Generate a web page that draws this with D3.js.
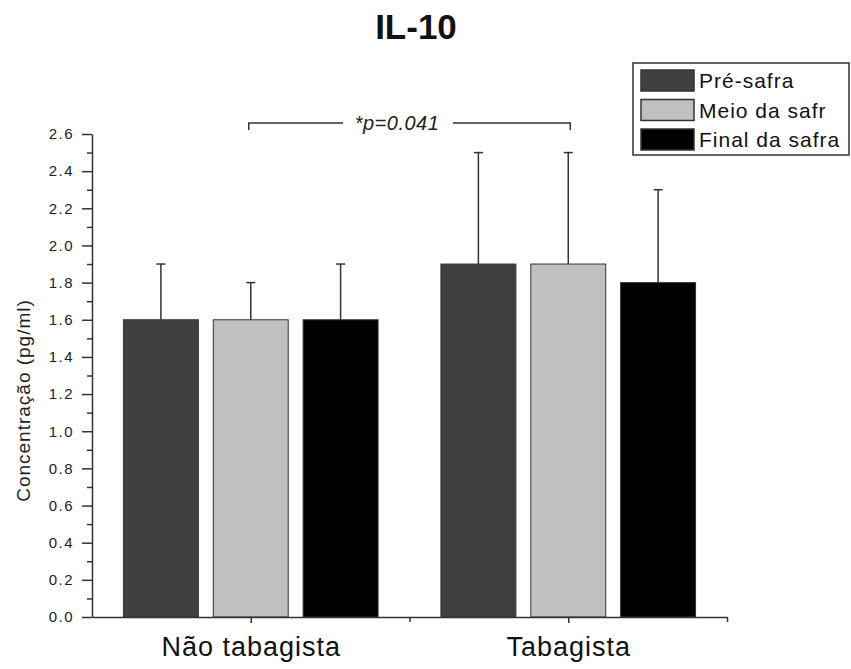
<!DOCTYPE html>
<html>
<head>
<meta charset="utf-8">
<script src="https://cdn.jsdelivr.net/npm/d3@7"></script>
<style>
	body { margin: 0; background: #fff; }
	svg { display: block; font-family: Arial, "Liberation Sans", sans-serif; }
</style>
</head>
<body>
<div id="chart"></div>
<script>
// values
const groups = ["Não tabagista", "Tabagista"];
const series = ["Pré-safra", "Meio da safr", "Final da safra"];
const seriesColors = ["#404040", "#c0c0c0", "#000000"];
const means = [
	[1.6, 1.6, 1.6],
	[1.9, 1.9, 1.8]
];
const errors = [
	[0.3, 0.2, 0.3],
	[0.6, 0.6, 0.5]
];
const yTicks = [0, 0.2, 0.4, 0.6, 0.8, 1.0, 1.2, 1.4, 1.6, 1.8, 2.0, 2.2, 2.4, 2.6];
const yMinorTicks = [0.1, 0.3, 0.5, 0.7, 0.9, 1.1, 1.3, 1.5, 1.7, 1.9, 2.1, 2.3, 2.5];
const pLabel = "*p=0.041";

const width = 851, height = 669;
const plotLeft = 92, plotRight = 727, plotTop = 134, plotBottom = 617;

const svg = d3.select('#chart').append('svg')
	.attr('width', width)
	.attr('height', height);

// group i sits at x = i + 1
const x = d3.scaleLinear().domain([0.5, 2.5]).range([plotLeft, plotRight]);
const y = d3.scaleLinear().domain([0, 2.6]).range([plotBottom, plotTop]);

const barW = 0.236;   // in x units
const pitch = 0.283;

// bars
const bars = svg.append('g');
means.forEach(function(row, gi) {
	row.forEach(function(v, si) {
		const cx = x(gi + 1 + (si - 1) * pitch);
		const w = x(barW) - x(0);
		bars.append('rect')
			.attr('x', cx - w / 2)
			.attr('y', y(v))
			.attr('width', w)
			.attr('height', y(0) - y(v))
			.attr('fill', seriesColors[si])
			.attr('stroke', '#333')
			.attr('stroke-width', 1);
		// error bar, upward only
		const yTop = y(v + errors[gi][si]);
		bars.append('line')
			.attr('x1', cx).attr('x2', cx)
			.attr('y1', y(v)).attr('y2', yTop)
			.attr('stroke', '#333').attr('stroke-width', 1.5);
		bars.append('line')
			.attr('x1', cx - 4.5).attr('x2', cx + 4.5)
			.attr('y1', yTop).attr('y2', yTop)
			.attr('stroke', '#333').attr('stroke-width', 1.5);
	});
});

// y axis
const yAxis = d3.axisLeft(y)
	.tickValues(yTicks)
	.tickFormat(d3.format('.1f'))
	.tickSize(10)
	.tickSizeOuter(0)
	.tickPadding(8);
const gy = svg.append('g')
	.attr('transform', `translate(${plotLeft},0)`)
	.call(yAxis);
gy.selectAll('text')
	.attr('font-size', 15)
	.attr('letter-spacing', 1.5)
	.attr('fill', '#222')
	.attr('font-family', 'Arial, "Liberation Sans", sans-serif');

svg.append('g')
	.attr('transform', `translate(${plotLeft},0)`)
	.call(d3.axisLeft(y).tickValues(yMinorTicks).tickSize(5).tickFormat('').tickSizeOuter(0))
	.call(g => g.select('.domain').remove());

// x axis
const xAxis = d3.axisBottom(x)
	.tickValues([1, 2])
	.tickFormat(function(d) { return groups[d - 1]; })
	.tickSize(6)
	.tickSizeOuter(0)
	.tickPadding(14);
const gx = svg.append('g')
	.attr('transform', `translate(0,${plotBottom})`)
	.call(xAxis);
gx.selectAll('text')
	.attr('font-size', 27)
	.attr('letter-spacing', 1)
	.attr('fill', '#111')
	.attr('font-family', 'Arial, "Liberation Sans", sans-serif');

svg.append('g')
	.attr('transform', `translate(0,${plotBottom})`)
	.call(d3.axisBottom(x).tickValues([1.5, 2.5]).tickSize(5).tickFormat('').tickSizeOuter(0))
	.call(g => g.select('.domain').remove());

svg.selectAll('.domain, .tick line')
	.attr('stroke', '#333')
	.attr('stroke-width', 1.5);

// y label
svg.append('text')
	.attr('transform', `translate(30,${(plotTop + plotBottom) / 2 + 25}) rotate(-90)`)
	.attr('text-anchor', 'middle')
	.attr('font-size', 19)
	.attr('letter-spacing', 1)
	.attr('fill', '#222')
	.text('Concentração (pg/ml)');

// title
svg.append('text')
	.attr('x', 416)
	.attr('y', 39)
	.attr('text-anchor', 'middle')
	.attr('font-size', 35)
	.attr('font-weight', 'bold')
	.attr('fill', '#111')
	.text('IL-10');

// significance bracket
const bx1 = x(1) - 2, bx2 = x(2) + 2, by = 123;
svg.append('path')
	.attr('d', `M${bx1},${by + 7}V${by}H343M453,${by}H${bx2}V${by + 7}`)
	.attr('fill', 'none')
	.attr('stroke', '#333')
	.attr('stroke-width', 1.5);
svg.append('text')
	.attr('x', 397)
	.attr('y', 130)
	.attr('text-anchor', 'middle')
	.attr('font-size', 20)
	.attr('font-style', 'italic')
	.attr('letter-spacing', 0.5)
	.attr('fill', '#222')
	.text(pLabel);

// legend
const legend = svg.append('g');
legend.append('rect')
	.attr('x', 633).attr('y', 63)
	.attr('width', 216).attr('height', 92)
	.attr('fill', '#fff')
	.attr('stroke', '#333')
	.attr('stroke-width', 1.5);
series.forEach(function(name, i) {
	const ry = 70 + i * 29.5;
	legend.append('rect')
		.attr('x', 641).attr('y', ry)
		.attr('width', 53).attr('height', 21)
		.attr('fill', seriesColors[i])
		.attr('stroke', '#333')
		.attr('stroke-width', 1.5);
	legend.append('text')
		.attr('x', 699).attr('y', ry + 18)
		.attr('font-size', 21)
		.attr('letter-spacing', 1)
		.attr('fill', '#111')
		.text(name);
});
</script>
</body>
</html>
